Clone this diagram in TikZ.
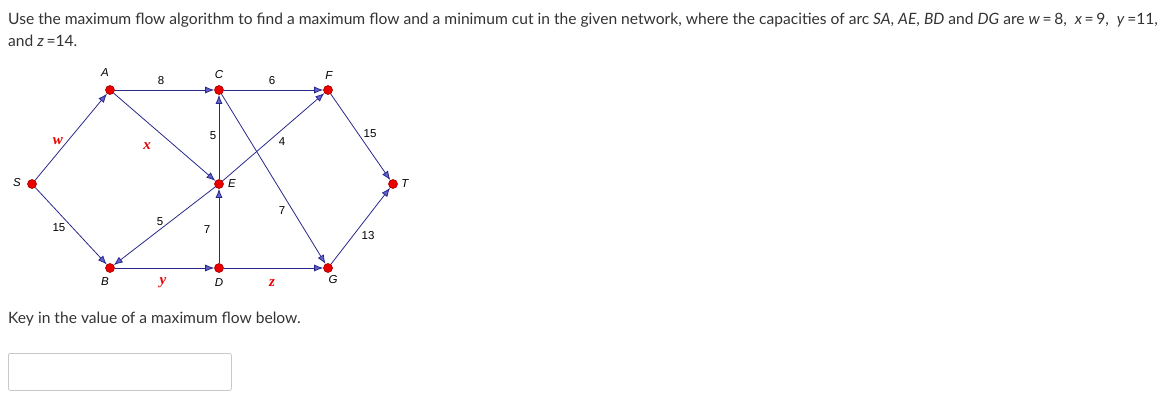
\documentclass[tikz,border=0pt]{standalone}
\usepackage{fontspec}
\setmainfont{Lato}
\newfontfamily\graphfont{Liberation Sans}
\newfontfamily\varfont{Liberation Serif}
\usetikzlibrary{arrows.meta}
\definecolor{arcblue}{RGB}{40, 40, 140}
\definecolor{tipblue}{RGB}{100, 100, 200}
\definecolor{vertred}{RGB}{235, 0, 0}
\definecolor{textgray}{RGB}{51, 51, 51}
\definecolor{boxgray}{RGB}{200, 200, 200}

\begin{document}
\begin{tikzpicture}[x=1pt, y=-1pt,
  vert/.style={circle, draw=vertred!70!black, fill=vertred, inner sep=0pt,
               minimum size=9pt, line width=0.6pt},
  arcline/.style={draw=arcblue, line width=0.8pt,
              -{Latex[length=9pt, width=7pt, fill=tipblue]}},
  capty/.style={font=\graphfont\fontsize{11.5}{13}\selectfont, inner sep=0pt},
  vname/.style={font=\graphfont\itshape\fontsize{11.5}{13}\selectfont, inner sep=0pt},
  varlbl/.style={font=\varfont\bfseries\itshape\fontsize{15}{17}\selectfont,
              text=vertred, inner sep=0pt},
  para/.style={font=\fontsize{15.6}{19}\selectfont, text=textgray, inner sep=0pt,
               anchor=base west},
]
\useasboundingbox (0,0) rectangle (1168,408);

% Question
\node[para] (q1) at (8,24) {Use the maximum flow algorithm to find a maximum flow and a minimum cut in the given network, where the capacities of arc \textit{SA}, \textit{AE}, \textit{BD} and \textit{DG} are \textit{w}\,=\,8, \ \textit{x}\,=\,9, \ \textit{y}\,=11,};
\node[para] (q2) at (8,46) {and \textit{z}\,=14.};

% Vertices
\node[vert] (S) at (32,184) {};
\node[vert] (A) at (110,90) {};
\node[vert] (B) at (110,268) {};
\node[vert] (C) at (219,90) {};
\node[vert] (E) at (219,184) {};
\node[vert] (D) at (219,268) {};
\node[vert] (F) at (328,90) {};
\node[vert] (G) at (328,268) {};
\node[vert] (T) at (393,184) {};

\node[vname] (nS) at (17,183) {S};
\node[vname] (nA) at (105,73) {A};
\node[vname] (nB) at (105,282) {B};
\node[vname] (nC) at (219,75) {C};
\node[vname] (nE) at (232,184) {E};
\node[vname] (nD) at (219,283) {D};
\node[vname] (nF) at (329,76) {F};
\node[vname] (nG) at (333,280) {G};
\node[vname] (nT) at (405,184) {T};

% Arcs
\draw[arcline] (S) -- (A);
\draw[arcline] (S) -- (B);
\draw[arcline] (A) -- (C);
\draw[arcline] (A) -- (E);
\draw[arcline] (C) -- (F);
\draw[arcline] (C) -- (G);
\draw[arcline] (E) -- (C);
\draw[arcline] (E) -- (F);
\draw[arcline] (E) -- (B);
\draw[arcline] (D) -- (E);
\draw[arcline] (B) -- (D);
\draw[arcline] (D) -- (G);
\draw[arcline] (F) -- (T);
\draw[arcline] (G) -- (T);

% Capacities
\node[varlbl] (lw) at (58,141) {w};
\node[varlbl] (lx) at (147,146) {x};
\node[varlbl] (ly) at (163,283) {y};
\node[varlbl] (lz) at (272,283) {z};
\node[capty] (lAC) at (161,81) {8};
\node[capty] (lCF) at (272,81) {6};
\node[capty] (lEC) at (213,136) {5};
\node[capty] (lEF) at (282,142) {4};
\node[capty] (lFT) at (370,134) {15};
\node[capty] (lSB) at (59,228) {15};
\node[capty] (lEB) at (160,222) {5};
\node[capty] (lDE) at (207,230) {7};
\node[capty] (lCG) at (282,211) {7};
\node[capty] (lGT) at (368,236) {13};

% Answer
\node[para] (q3) at (8,323) {Key in the value of a maximum flow below.};
\node[draw=boxgray, rounded corners=2pt, line width=0.8pt, minimum width=223pt,
      minimum height=37pt, anchor=north west] (ans) at (8,353) {};
\end{tikzpicture}
\end{document}
